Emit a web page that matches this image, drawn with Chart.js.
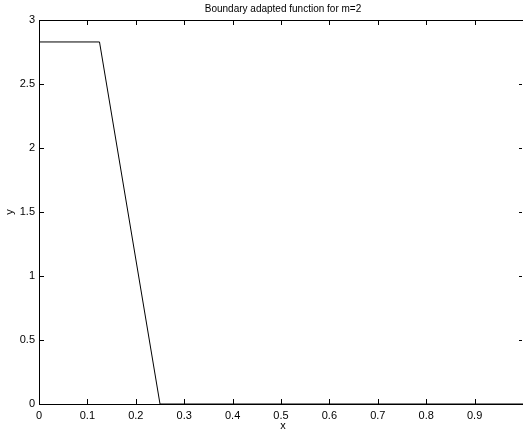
<!DOCTYPE html>
<html>
<head>
<meta charset="utf-8">
<script src="https://cdn.jsdelivr.net/npm/chart.js@4/dist/chart.umd.min.js"></script>
<style>
  html, body { margin: 0; padding: 0; background: #fff; }
  #wrap { width: 523px; height: 432px; }
</style>
</head>
<body>
<div id="wrap"><canvas id="myChart" width="523" height="432"></canvas></div>
<script>
// data
const xValues = [0, 0.125, 0.25, 1];
const yValues = [2.8284, 2.8284, 0, 0];
const xTicks = [0, 0.1, 0.2, 0.3, 0.4, 0.5, 0.6, 0.7, 0.8, 0.9];
const yTicks = [0, 0.5, 1, 1.5, 2, 2.5, 3];
const titleText = 'Boundary adapted function for m=2';

const fontFam = '"Liberation Sans", Arial, sans-serif';

// top line, inward ticks and labels, matlab style
const framePlugin = {
    id: 'frame',
    afterDraw(chart) {
        const c = chart.ctx;
        const a = chart.chartArea;
        const xs = chart.scales.x, ys = chart.scales.y;
        c.save();
        c.strokeStyle = '#000';
        c.lineWidth = 1;
        c.beginPath();
        c.moveTo(a.left, a.top + 0.5);
        c.lineTo(a.right, a.top + 0.5);
        xTicks.forEach(v => {
            const px = Math.round(xs.getPixelForValue(v)) + 0.5;
            c.moveTo(px, a.bottom); c.lineTo(px, a.bottom - 5);
            c.moveTo(px, a.top); c.lineTo(px, a.top + 5);
        });
        yTicks.forEach(v => {
            const py = Math.round(ys.getPixelForValue(v)) + 0.5;
            c.moveTo(a.left, py); c.lineTo(a.left + 5, py);
            c.moveTo(a.right - 1, py); c.lineTo(a.right - 4, py);
        });
        c.stroke();

        c.fillStyle = '#000';
        c.textAlign = 'center';
        c.textBaseline = 'middle';
        c.font = '10px ' + fontFam;
        c.fillText(titleText, (a.left + a.right) / 2 + 2, 9);
        c.font = '11px ' + fontFam;
        c.fillText('x', (a.left + a.right) / 2 + 2, 426);
        c.translate(10, (a.top + a.bottom) / 2);
        c.rotate(-Math.PI / 2);
        c.fillText('y', 0, 0);
        c.restore();
    }
};

const ctx = document.getElementById('myChart').getContext('2d');

const myChart = new Chart(ctx, {
    type: 'scatter',
    data: {
        datasets: [{
            data: xValues.map((x, i) => ({ x: x, y: yValues[i] })),
            showLine: true,
            borderColor: '#000',
            borderWidth: 1,
            pointRadius: 0,
            fill: false,
            tension: 0
        }]
    },
    options: {
        responsive: false,
        animation: false,
        layout: { padding: { top: 20, right: 0, left: 0, bottom: 0 } },
        plugins: {
            legend: { display: false },
            tooltip: { enabled: false }
        },
        scales: {
            x: {
                type: 'linear',
                min: 0,
                max: 1,
                afterFit(s) { s.height = 28; },
                afterBuildTicks(s) { s.ticks = xTicks.map(v => ({ value: v })); },
                grid: { display: false, drawTicks: false },
                border: { display: true, color: '#000', width: 1 },
                ticks: {
                    color: '#000',
                    font: { size: 11, family: fontFam },
                    padding: 5,
                    maxRotation: 0,
                    callback: v => String(v)
                }
            },
            y: {
                type: 'linear',
                min: 0,
                max: 3,
                afterFit(s) { s.width = 39; },
                afterBuildTicks(s) { s.ticks = yTicks.map(v => ({ value: v })); },
                grid: { display: false, drawTicks: false },
                border: { display: true, color: '#000', width: 1 },
                ticks: {
                    color: '#000',
                    font: { size: 11, family: fontFam },
                    padding: 4,
                    callback: v => String(v)
                }
            }
        }
    },
    plugins: [framePlugin]
});
</script>
</body>
</html>
